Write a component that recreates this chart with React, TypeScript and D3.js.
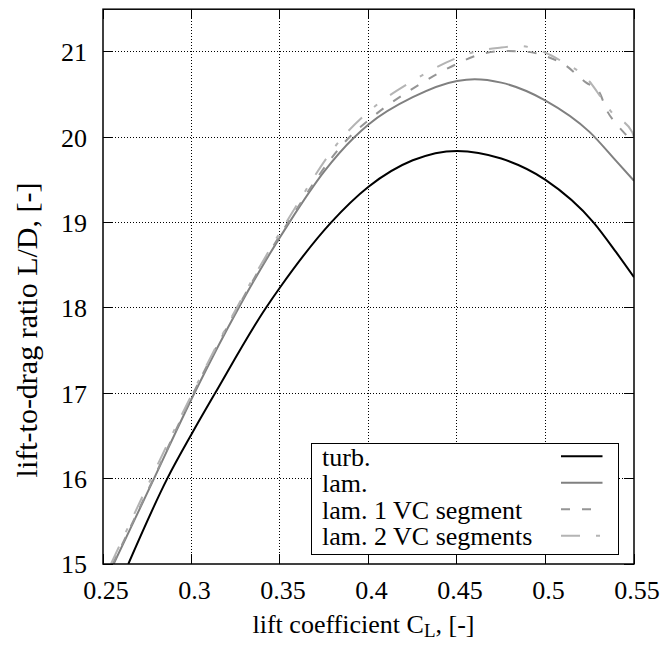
import React from "react";
import * as d3 from "d3";

const xTicks = [0.25, 0.3, 0.35, 0.4, 0.45, 0.5, 0.55];
const yTicks = [15, 16, 17, 18, 19, 20, 21];

const turbCL = [0.2643, 0.2863, 0.3, 0.3133, 0.342, 0.35, 0.3788, 0.4, 0.425, 0.45, 0.475, 0.5, 0.5272, 0.54, 0.55];
const turbLD = [15.0, 16.0, 16.52, 17.0, 18.0, 18.24, 19.0, 19.42, 19.73, 19.84, 19.75, 19.5, 19.0, 18.65, 18.36];

const lamCL = [0.256, 0.2788, 0.3016, 0.3266, 0.3552, 0.375, 0.392, 0.4, 0.425, 0.45, 0.46, 0.475, 0.5, 0.525, 0.54, 0.55];
const lamLD = [15.0, 16.0, 17.0, 18.0, 19.0, 19.6, 20.0, 20.15, 20.47, 20.66, 20.68, 20.64, 20.43, 20.06, 19.72, 19.49];

const vc1CL = [0.2555, 0.2785, 0.301, 0.326, 0.3545, 0.3892, 0.4, 0.425, 0.45, 0.46, 0.475, 0.49, 0.5, 0.51, 0.523, 0.53, 0.535, 0.539, 0.545, 0.55];
const vc1LD = [15.0, 16.0, 17.0, 18.0, 19.0, 20.0, 20.2, 20.57, 20.86, 20.95, 21.01, 21.0, 20.95, 20.86, 20.64, 20.54, 20.3, 20.18, 20.04, 19.93];

const vc2CL = [0.2545, 0.2771, 0.3005, 0.3255, 0.3534, 0.3854, 0.4, 0.425, 0.45, 0.46, 0.475, 0.485, 0.495, 0.5, 0.51, 0.52, 0.525, 0.5292, 0.5336, 0.5374, 0.549, 0.55];
const vc2LD = [15.0, 16.0, 17.0, 18.0, 19.0, 20.0, 20.3, 20.66, 20.93, 21.0, 21.05, 21.07, 21.03, 20.99, 20.88, 20.75, 20.65, 20.53, 20.4, 20.29, 20.06, 20.0];

const legendLabels = ["turb.", "lam.", "lam. 1 VC segment", "lam. 2 VC segments"];

const W = 662;
const H = 646;
const L = 103;
const R = 634;
const T = 9.2;
const B = 564;
const FONT = "'Liberation Serif', 'Times New Roman', serif";

export default function App() {
  const x = d3.scaleLinear().domain([0.25, 0.55]).range([L, R]);
  const y = d3.scaleLinear().domain([15, 21.5]).range([B, T]);
  const px = (v: number) => Math.round(v - 0.5) + 0.5;

  const line = d3
    .line<[number, number]>()
    .x((d) => x(d[0]))
    .y((d) => y(d[1]))
    .curve(d3.curveMonotoneX);

  const zip = (a: number[], b: number[]) => a.map((v, i) => [v, b[i]] as [number, number]);

  const series = [
    { data: zip(turbCL, turbLD), color: "#000000", dash: "none", w: 2 },
    { data: zip(lamCL, lamLD), color: "#808080", dash: "none", w: 2 },
    { data: zip(vc1CL, vc1LD), color: "#959595", dash: "9,12", w: 2 },
    { data: zip(vc2CL, vc2LD), color: "#b4b4b4", dash: "19,16,4,16", w: 2 },
  ];

  const legendBaselines = [465.5, 492, 518.5, 545];

  return (
    <svg
      width={W}
      height={H}
      style={{ position: "absolute", left: 0, top: 0, background: "#fff" }}
      fontFamily={FONT}
    >
      <rect x={0} y={0} width={W} height={H} fill="#fff" />
      <defs>
        <clipPath id="plotclip">
          <rect x={L} y={T} width={R - L} height={B - T} />
        </clipPath>
      </defs>
      {/* grid */}
      {xTicks.slice(1, -1).map((t) => (
        <line key={"gx" + t} x1={px(x(t))} x2={px(x(t))} y1={T} y2={B} stroke="#000" strokeWidth={1} strokeDasharray="1,2" shapeRendering="crispEdges" />
      ))}
      {yTicks.slice(1).map((t) => (
        <line key={"gy" + t} x1={L} x2={R} y1={px(y(t))} y2={px(y(t))} stroke="#000" strokeWidth={1} strokeDasharray="1,2" shapeRendering="crispEdges" />
      ))}
      {/* ticks */}
      {xTicks.map((t) => (
        <g key={"tx" + t}>
          <line x1={px(x(t))} x2={px(x(t))} y1={B} y2={B - 10} stroke="#000" strokeWidth={1} shapeRendering="crispEdges" />
          <line x1={px(x(t))} x2={px(x(t))} y1={T} y2={T + 10} stroke="#000" strokeWidth={1} shapeRendering="crispEdges" />
          <text x={x(t) + 3} y={599} fontSize={26} textAnchor="middle" fill="#000">
            {String(t)}
          </text>
        </g>
      ))}
      {yTicks.map((t) => (
        <g key={"ty" + t}>
          <line x1={L} x2={L + 10} y1={px(y(t))} y2={px(y(t))} stroke="#000" strokeWidth={1} shapeRendering="crispEdges" />
          <line x1={R} x2={R - 10} y1={px(y(t))} y2={px(y(t))} stroke="#000" strokeWidth={1} shapeRendering="crispEdges" />
          <text x={87} y={y(t) + 9.3} fontSize={26} textAnchor="end" fill="#000">
            {String(t)}
          </text>
        </g>
      ))}
      {/* curves */}
      <g clipPath="url(#plotclip)">
        {series.map((s, i) => (
          <path
            key={"s" + i}
            d={line(s.data) || ""}
            fill="none"
            stroke={s.color}
            strokeWidth={s.w}
            strokeDasharray={s.dash}
            strokeLinejoin="round"
          />
        ))}
      </g>
      {/* legend */}
      <rect x={311.5} y={443.5} width={307} height={111} fill="#fff" stroke="#000" strokeWidth={1} shapeRendering="crispEdges" />
      {legendLabels.map((lab, i) => (
        <g key={"lg" + i}>
          <text x={322} y={legendBaselines[i]} fontSize={26} fill="#000">
            {lab}
          </text>
          <line
            x1={561}
            x2={602.5}
            y1={legendBaselines[i] - 9.3}
            y2={legendBaselines[i] - 9.3}
            stroke={series[i].color}
            strokeWidth={series[i].w}
            strokeDasharray={series[i].dash}
          />
        </g>
      ))}
      {/* frame */}
      <rect x={L} y={T} width={R - L} height={B - T} fill="none" stroke="#000" strokeWidth={1.5} />
      {/* axis labels */}
      <text x={363.5} y={633} fontSize={26} textAnchor="middle" fill="#000">
        lift coefficient C
        <tspan fontSize={19} dy={4}>L</tspan>
        <tspan dy={-4}>, [-]</tspan>
      </text>
      <text
        transform={`translate(37,330) rotate(-90)`}
        fontSize={30}
        textAnchor="middle"
        fill="#000"
      >
        lift-to-drag ratio L/D, [-]
      </text>
    </svg>
  );
}
